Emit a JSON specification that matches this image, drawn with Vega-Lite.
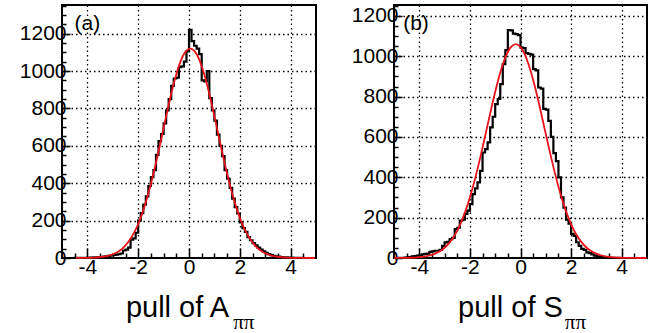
{
  "$schema": "https://vega.github.io/schema/vega-lite/v6.json",
  "background": "white",
  "padding": {"left": 18, "top": 3, "right": 2, "bottom": 0},
  "spacing": 28,
  "config": {
    "view": {"stroke": "black", "strokeWidth": 2},
    "font": "Liberation Sans",
    "axis": {
      "labelFont": "Liberation Sans", "labelFontSize": 21, "labelColor": "black",
      "titleFont": "Liberation Sans", "titleFontSize": 29, "titleFontWeight": "normal", "titleColor": "black",
      "domain": false, "tickColor": "black", "tickWidth": 1.5,
      "gridColor": "black", "gridDash": [1.5, 3], "gridWidth": 1.3
    }
  },
  "datasets": {
    "ha": [
      {"x":-5.0,"n":0},{"x":-4.9,"n":0},{"x":-4.8,"n":0},{"x":-4.7,"n":0},{"x":-4.6,"n":0},{"x":-4.5,"n":1},{"x":-4.4,"n":0},{"x":-4.3,"n":1},{"x":-4.2,"n":0},{"x":-4.1,"n":1},
      {"x":-4.0,"n":2},{"x":-3.9,"n":1},{"x":-3.8,"n":3},{"x":-3.7,"n":2},{"x":-3.6,"n":5},{"x":-3.5,"n":4},{"x":-3.4,"n":7},{"x":-3.3,"n":9},{"x":-3.2,"n":11},{"x":-3.1,"n":14},
      {"x":-3.0,"n":17},{"x":-2.9,"n":18},{"x":-2.8,"n":20},{"x":-2.7,"n":24},{"x":-2.6,"n":40},{"x":-2.5,"n":45},{"x":-2.4,"n":55},{"x":-2.3,"n":98},{"x":-2.2,"n":105},{"x":-2.1,"n":135},
      {"x":-2.0,"n":200},{"x":-1.9,"n":240},{"x":-1.8,"n":285},{"x":-1.7,"n":330},{"x":-1.6,"n":385},{"x":-1.5,"n":432},{"x":-1.4,"n":470},{"x":-1.3,"n":552},{"x":-1.2,"n":625},{"x":-1.1,"n":663},
      {"x":-1.0,"n":720},{"x":-0.9,"n":790},{"x":-0.8,"n":850},{"x":-0.7,"n":920},{"x":-0.6,"n":960},{"x":-0.5,"n":965},{"x":-0.4,"n":1020},{"x":-0.3,"n":1025},{"x":-0.2,"n":1050},{"x":-0.1,"n":1105},
      {"x":0.0,"n":1220},{"x":0.1,"n":1160},{"x":0.2,"n":1135},{"x":0.3,"n":1120},{"x":0.4,"n":1090},{"x":0.5,"n":950},{"x":0.6,"n":945},{"x":0.7,"n":1000},{"x":0.8,"n":855},{"x":0.9,"n":790},
      {"x":1.0,"n":735},{"x":1.1,"n":660},{"x":1.2,"n":600},{"x":1.3,"n":545},{"x":1.4,"n":470},{"x":1.5,"n":425},{"x":1.6,"n":375},{"x":1.7,"n":318},{"x":1.8,"n":272},{"x":1.9,"n":238},
      {"x":2.0,"n":190},{"x":2.1,"n":160},{"x":2.2,"n":140},{"x":2.3,"n":112},{"x":2.4,"n":95},{"x":2.5,"n":80},{"x":2.6,"n":68},{"x":2.7,"n":55},{"x":2.8,"n":45},{"x":2.9,"n":35},
      {"x":3.0,"n":28},{"x":3.1,"n":21},{"x":3.2,"n":15},{"x":3.3,"n":12},{"x":3.4,"n":9},{"x":3.5,"n":7},{"x":3.6,"n":5},{"x":3.7,"n":4},{"x":3.8,"n":3},{"x":3.9,"n":2},
      {"x":4.0,"n":2},{"x":4.1,"n":1},{"x":4.2,"n":1},{"x":4.3,"n":0},{"x":4.4,"n":1},{"x":4.5,"n":0},{"x":4.6,"n":0},{"x":4.7,"n":0},{"x":4.8,"n":0},{"x":4.9,"n":0},
      {"x":5.0,"n":0}
    ],
    "hb": [
      {"x":-5.0,"n":0},{"x":-4.9,"n":0},{"x":-4.8,"n":1},{"x":-4.7,"n":0},{"x":-4.6,"n":2},{"x":-4.5,"n":3},{"x":-4.4,"n":5},{"x":-4.3,"n":8},{"x":-4.2,"n":10},{"x":-4.1,"n":12},
      {"x":-4.0,"n":13},{"x":-3.9,"n":18},{"x":-3.8,"n":20},{"x":-3.7,"n":22},{"x":-3.6,"n":30},{"x":-3.5,"n":33},{"x":-3.4,"n":36},{"x":-3.3,"n":36},{"x":-3.2,"n":40},{"x":-3.1,"n":60},
      {"x":-3.0,"n":77},{"x":-2.9,"n":80},{"x":-2.8,"n":94},{"x":-2.7,"n":100},{"x":-2.6,"n":143},{"x":-2.5,"n":150},{"x":-2.4,"n":185},{"x":-2.3,"n":190},{"x":-2.2,"n":218},{"x":-2.1,"n":235},
      {"x":-2.0,"n":267},{"x":-1.9,"n":317},{"x":-1.8,"n":345},{"x":-1.7,"n":375},{"x":-1.6,"n":432},{"x":-1.5,"n":523},{"x":-1.4,"n":540},{"x":-1.3,"n":573},{"x":-1.2,"n":647},{"x":-1.1,"n":700},
      {"x":-1.0,"n":763},{"x":-0.9,"n":788},{"x":-0.8,"n":862},{"x":-0.7,"n":961},{"x":-0.6,"n":1030},{"x":-0.5,"n":1130},{"x":-0.4,"n":1128},{"x":-0.3,"n":1112},{"x":-0.2,"n":1110},{"x":-0.1,"n":1105},
      {"x":0.0,"n":1043},{"x":0.1,"n":1040},{"x":0.2,"n":1015},{"x":0.3,"n":1012},{"x":0.4,"n":1008},{"x":0.5,"n":936},{"x":0.6,"n":930},{"x":0.7,"n":845},{"x":0.8,"n":840},{"x":0.9,"n":739},
      {"x":1.0,"n":735},{"x":1.1,"n":680},{"x":1.2,"n":600},{"x":1.3,"n":520},{"x":1.4,"n":480},{"x":1.5,"n":400},{"x":1.6,"n":300},{"x":1.7,"n":250},{"x":1.8,"n":190},{"x":1.9,"n":170},
      {"x":2.0,"n":120},{"x":2.1,"n":110},{"x":2.2,"n":78},{"x":2.3,"n":60},{"x":2.4,"n":45},{"x":2.5,"n":40},{"x":2.6,"n":28},{"x":2.7,"n":24},{"x":2.8,"n":18},{"x":2.9,"n":12},
      {"x":3.0,"n":8},{"x":3.1,"n":6},{"x":3.2,"n":4},{"x":3.3,"n":3},{"x":3.4,"n":2},{"x":3.5,"n":1},{"x":3.6,"n":1},{"x":3.7,"n":0},{"x":3.8,"n":1},{"x":3.9,"n":0},
      {"x":4.0,"n":0},{"x":4.1,"n":0},{"x":4.2,"n":0},{"x":4.3,"n":0},{"x":4.4,"n":0},{"x":4.5,"n":0},{"x":4.6,"n":0},{"x":4.7,"n":0},{"x":4.8,"n":0},{"x":4.9,"n":0},
      {"x":5.0,"n":0}
    ],
    "fa": [
      {"x":-4.45,"f":0.3},{"x":-4.15,"f":0.5},{"x":-3.95,"f":1.1},{"x":-3.75,"f":2.2},{"x":-3.55,"f":4.1},{"x":-3.35,"f":7.5},{"x":-3.15,"f":13},{"x":-2.95,"f":23},{"x":-2.75,"f":38},{"x":-2.55,"f":60},
      {"x":-2.35,"f":93},{"x":-2.15,"f":138},{"x":-1.95,"f":198},{"x":-1.75,"f":276},{"x":-1.55,"f":370},{"x":-1.35,"f":480},{"x":-1.15,"f":601},{"x":-0.95,"f":727},{"x":-0.75,"f":849},{"x":-0.55,"f":958},
      {"x":-0.35,"f":1045},{"x":-0.15,"f":1101},{"x":0.05,"f":1120},{"x":0.25,"f":1101},{"x":0.45,"f":1045},{"x":0.65,"f":958},{"x":0.85,"f":849},{"x":1.05,"f":727},{"x":1.25,"f":601},{"x":1.45,"f":480},
      {"x":1.65,"f":370},{"x":1.85,"f":276},{"x":2.05,"f":198},{"x":2.25,"f":138},{"x":2.45,"f":93},{"x":2.65,"f":60},{"x":2.85,"f":38},{"x":3.05,"f":23},{"x":3.25,"f":13},{"x":3.45,"f":7.5},
      {"x":3.65,"f":4.1},{"x":3.85,"f":2.2},{"x":4.05,"f":1.1},{"x":4.45,"f":0.3},{"x":4.95,"f":0}
    ],
    "fb": [
      {"x":-4.99,"f":0.1},{"x":-4.79,"f":0.3},{"x":-4.59,"f":0.6},{"x":-4.39,"f":1.2},{"x":-4.19,"f":2.2},{"x":-3.99,"f":4.1},{"x":-3.79,"f":7.2},{"x":-3.59,"f":12.4},{"x":-3.39,"f":20.6},{"x":-3.19,"f":33.2},
      {"x":-2.99,"f":51.9},{"x":-2.79,"f":78.7},{"x":-2.59,"f":115.6},{"x":-2.39,"f":164.7},{"x":-2.19,"f":227.5},{"x":-1.99,"f":304.8},{"x":-1.79,"f":395.9},{"x":-1.59,"f":498.7},{"x":-1.39,"f":609.1},{"x":-1.19,"f":721.5},
      {"x":-0.99,"f":828.6},{"x":-0.79,"f":922.9},{"x":-0.59,"f":996.7},{"x":-0.39,"f":1043.8},{"x":-0.19,"f":1060},{"x":0.01,"f":1043.8},{"x":0.21,"f":996.7},{"x":0.41,"f":922.9},{"x":0.61,"f":828.6},{"x":0.81,"f":721.5},
      {"x":1.01,"f":609.1},{"x":1.21,"f":498.7},{"x":1.41,"f":395.9},{"x":1.61,"f":304.8},{"x":1.81,"f":227.5},{"x":2.01,"f":164.7},{"x":2.21,"f":115.6},{"x":2.41,"f":78.7},{"x":2.61,"f":51.9},{"x":2.81,"f":33.2},
      {"x":3.01,"f":20.6},{"x":3.21,"f":12.4},{"x":3.41,"f":7.2},{"x":3.61,"f":4.1},{"x":3.81,"f":2.2},{"x":4.01,"f":1.2},{"x":4.21,"f":0.6},{"x":4.41,"f":0.3},{"x":4.61,"f":0.1},{"x":4.99,"f":0}
    ]
  },
  "hconcat": [
    {
      "width": 254, "height": 253,
      "resolve": {"axis": {"x": "independent", "y": "independent"}},
      "layer": [
        {
          "data": {"name": "ha"},
          "mark": {"type": "line", "interpolate": "step-after", "color": "black", "strokeWidth": 2.2},
          "encoding": {
            "x": {"field": "x", "type": "quantitative",
              "scale": {"domain": [-5, 5], "nice": false, "zero": false},
              "axis": {
                "orient": "bottom",
                "values": [-4.5,-4,-3.5,-3,-2.5,-2,-1.5,-1,-0.5,0,0.5,1,1.5,2,2.5,3,3.5,4,4.5],
                "labelExpr": "datum.value % 2 === 0 ? '' + datum.value : ''",
                "tickSize": {"condition": {"test": "datum.value % 2 === 0", "value": -10}, "value": -5},
                "gridOpacity": {"condition": {"test": "datum.value % 2 === 0", "value": 1}, "value": 0},
                "labelPadding": 8,
                "title": "pull of A", "titleX": 115, "titleY": 58, "titleAlign": "center", "titleBaseline": "alphabetic"
              }
            },
            "y": {"field": "n", "type": "quantitative",
              "scale": {"domain": [0, 1353], "nice": false},
              "axis": {
                "orient": "left",
                "values": [0,50,100,150,200,250,300,350,400,450,500,550,600,650,700,750,800,850,900,950,1000,1050,1100,1150,1200,1250,1300,1350],
                "labelExpr": "datum.value % 200 === 0 ? '' + datum.value : ''",
                "tickSize": {"condition": {"test": "datum.value % 200 === 0", "value": -8}, "value": -4},
                "gridOpacity": {"condition": {"test": "datum.value % 200 === 0 && datum.value > 0", "value": 1}, "value": 0},
                "labelPadding": 4,
                "title": null
              }
            }
          }
        },
        {
          "data": {"name": "fa"},
          "mark": {"type": "line", "interpolate": "monotone", "color": "#e8141c", "strokeWidth": 1.8},
          "encoding": {
            "x": {"field": "x", "type": "quantitative", "axis": null},
            "y": {"field": "f", "type": "quantitative", "axis": null}
          }
        },
        {
          "data": {"values": [{"t": "(a)"}]},
          "mark": {"type": "text", "fontSize": 21, "font": "Liberation Sans", "align": "center", "baseline": "alphabetic", "color": "black"},
          "encoding": {"text": {"field": "t"}, "x": {"datum": -4.0, "axis": null}, "y": {"datum": 1220, "axis": null}}
        },
        {
          "data": {"values": [{"t": "ππ"}]},
          "mark": {"type": "text", "fontSize": 21, "font": "Liberation Serif", "align": "center", "baseline": "alphabetic", "color": "black"},
          "encoding": {"text": {"field": "t"}, "x": {"datum": 2.16, "axis": null}, "y": {"datum": -378, "axis": null}}
        }
      ]
    },
    {
      "width": 253, "height": 253,
      "resolve": {"axis": {"x": "independent", "y": "independent"}},
      "layer": [
        {
          "data": {"name": "hb"},
          "mark": {"type": "line", "interpolate": "step-after", "color": "black", "strokeWidth": 2.2},
          "encoding": {
            "x": {"field": "x", "type": "quantitative",
              "scale": {"domain": [-5, 5], "nice": false, "zero": false},
              "axis": {
                "orient": "bottom",
                "values": [-4.5,-4,-3.5,-3,-2.5,-2,-1.5,-1,-0.5,0,0.5,1,1.5,2,2.5,3,3.5,4,4.5],
                "labelExpr": "datum.value % 2 === 0 ? '' + datum.value : ''",
                "tickSize": {"condition": {"test": "datum.value % 2 === 0", "value": -10}, "value": -5},
                "gridOpacity": {"condition": {"test": "datum.value % 2 === 0", "value": 1}, "value": 0},
                "labelPadding": 8,
                "title": "pull of S", "titleX": 116, "titleY": 58, "titleAlign": "center", "titleBaseline": "alphabetic"
              }
            },
            "y": {"field": "n", "type": "quantitative",
              "scale": {"domain": [0, 1254], "nice": false},
              "axis": {
                "orient": "left",
                "values": [0,50,100,150,200,250,300,350,400,450,500,550,600,650,700,750,800,850,900,950,1000,1050,1100,1150,1200,1250],
                "labelExpr": "datum.value % 200 === 0 ? '' + datum.value : ''",
                "tickSize": {"condition": {"test": "datum.value % 200 === 0", "value": -8}, "value": -4},
                "gridOpacity": {"condition": {"test": "datum.value % 200 === 0 && datum.value > 0", "value": 1}, "value": 0},
                "labelPadding": 4,
                "title": null
              }
            }
          }
        },
        {
          "data": {"name": "fb"},
          "mark": {"type": "line", "interpolate": "monotone", "color": "#e8141c", "strokeWidth": 1.8},
          "encoding": {
            "x": {"field": "x", "type": "quantitative", "axis": null},
            "y": {"field": "f", "type": "quantitative", "axis": null}
          }
        },
        {
          "data": {"values": [{"t": "(b)"}]},
          "mark": {"type": "text", "fontSize": 21, "font": "Liberation Sans", "align": "center", "baseline": "alphabetic", "color": "black"},
          "encoding": {"text": {"field": "t"}, "x": {"datum": -4.13, "axis": null}, "y": {"datum": 1131, "axis": null}}
        },
        {
          "data": {"values": [{"t": "ππ"}]},
          "mark": {"type": "text", "fontSize": 21, "font": "Liberation Serif", "align": "center", "baseline": "alphabetic", "color": "black"},
          "encoding": {"text": {"field": "t"}, "x": {"datum": 2.17, "axis": null}, "y": {"datum": -351, "axis": null}}
        }
      ]
    }
  ]
}
